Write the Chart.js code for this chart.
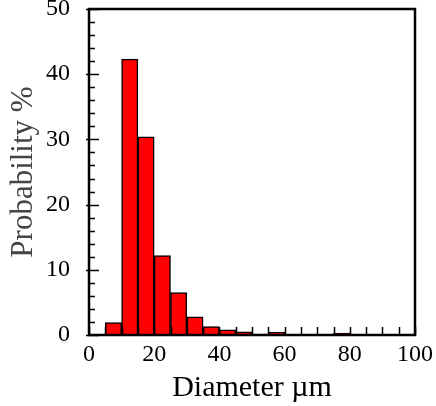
<!DOCTYPE html>
<html>
<head>
<meta charset="utf-8">
<script src="https://cdn.jsdelivr.net/npm/chart.js@4/dist/chart.umd.min.js"></script>
<style>
html,body{margin:0;padding:0;background:#fff;}
#wrap{width:436px;height:406px;}
</style>
</head>
<body>
<div id="wrap"><canvas id="c" width="436" height="406"></canvas></div>
<script>
const binStarts = [5,10,15,20,25,30,35,40,45,50,55,60,65,70,75,80,85,90,95];
const binWidth = 5;
const probability = [1.9,42.3,30.4,12.2,6.5,2.8,1.3,0.8,0.5,0.15,0.45,0.1,0.05,0.05,0.3,0.1,0.05,0.05,0.05];
const xTickLabels = [0,20,40,60,80,100];
const yTickLabels = [0,10,20,30,40,50];

const FONT = "'Liberation Serif', 'Times New Roman', serif";

const framePlugin = {
  id: 'frame',
  afterDraw(chart) {
    const ctx = chart.ctx, a = chart.chartArea;
    const xs = chart.scales.x, ys = chart.scales.y;
    ctx.save();
    ctx.strokeStyle = '#000';
    ctx.lineWidth = 1.5;
    ctx.beginPath();
    for (let v = 0; v <= 100; v += 5) {
      const px = Math.round(xs.getPixelForValue(v)) + 0.5;
      ctx.moveTo(px, a.bottom);
      ctx.lineTo(px, a.bottom - 8);
    }
    for (let v = 0; v <= 50; v += 2) {
      const py = Math.round(ys.getPixelForValue(v)) + 0.5;
      if (v % 10 === 0) { ctx.moveTo(a.left - 3, py); ctx.lineTo(a.left + 10, py); }
      else { ctx.moveTo(a.left, py); ctx.lineTo(a.left + 6, py); }
    }
    ctx.stroke();
    ctx.lineWidth = 2.5;
    ctx.strokeRect(a.left, a.top, a.right - a.left, a.bottom - a.top);
    ctx.restore();
  }
};

new Chart(document.getElementById('c'), {
  type: 'bar',
  data: {
    datasets: [{
      data: binStarts.map((s, i) => ({x: s + binWidth / 2, y: probability[i]})),
      backgroundColor: '#ff0000',
      borderColor: '#000',
      borderWidth: 1.5,
      barPercentage: 1,
      categoryPercentage: 1
    }]
  },
  options: {
    responsive: false,
    animation: false,
    layout: {padding: {top: 9, right: 21, left: 0, bottom: 0}},
    plugins: {legend: {display: false}, tooltip: {enabled: false}},
    scales: {
      x: {
        type: 'linear', min: 0, max: 100, offset: false,
        afterFit(s) { s.height = 71; s.paddingLeft = 0; s.paddingRight = 0; },
        grid: {display: false, drawTicks: false},
        border: {display: false},
        ticks: {stepSize: 20, padding: 5, color: '#000', font: {family: FONT, size: 24},
          callback: v => xTickLabels.includes(v) ? String(v) : ''},
        title: {display: true, text: 'Diameter µm', color: '#000', font: {family: FONT, size: 30}, padding: {top: 0, bottom: 0}}
      },
      y: {
        min: 0, max: 50,
        afterFit(s) { s.width = 89; s.paddingTop = 0; s.paddingBottom = 0; },
        grid: {display: false, drawTicks: false},
        border: {display: false},
        ticks: {stepSize: 10, padding: 19, color: '#000', font: {family: FONT, size: 24},
          callback: v => yTickLabels.includes(v) ? String(v) : ''},
        title: {display: true, text: 'Probability %', color: '#444', font: {family: FONT, size: 31}, padding: {top: 5, bottom: 0}}
      }
    }
  },
  plugins: [framePlugin]
});
</script>
</body>
</html>
